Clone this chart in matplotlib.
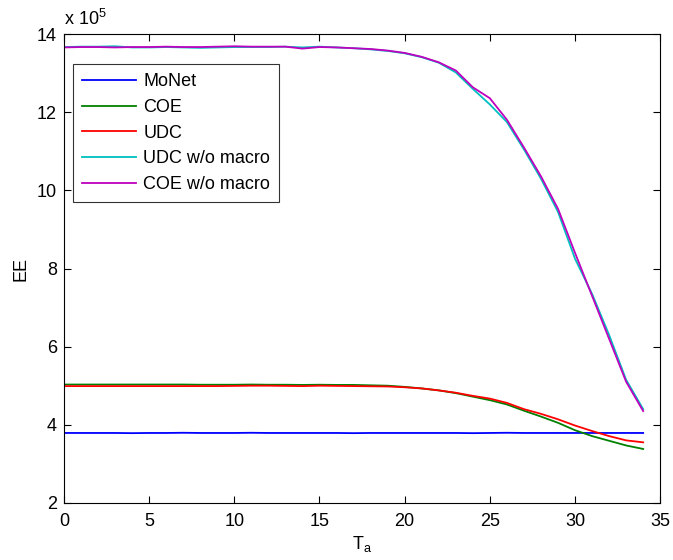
import matplotlib.pyplot as plt
import numpy as np

plt.rcParams['font.family'] = ['Liberation Sans', 'DejaVu Sans']
plt.rcParams['mathtext.fontset'] = 'custom'
plt.rcParams['mathtext.rm'] = 'Liberation Sans'

# T_a from 0 to 34, EE in units of 1e5
ta = np.arange(0, 35)

monet = [3.79, 3.79, 3.79, 3.79, 3.785, 3.79, 3.79, 3.795, 3.79, 3.79,
         3.79, 3.795, 3.79, 3.79, 3.79, 3.79, 3.79, 3.785, 3.79, 3.79,
         3.79, 3.79, 3.79, 3.79, 3.785, 3.79, 3.795, 3.79, 3.79, 3.79,
         3.79, 3.79, 3.79, 3.79, 3.79]
coe = [5.03, 5.03, 5.03, 5.03, 5.03, 5.03, 5.03, 5.03, 5.025, 5.025,
       5.025, 5.03, 5.025, 5.025, 5.02, 5.025, 5.02, 5.02, 5.01, 5.0,
       4.97, 4.93, 4.88, 4.81, 4.72, 4.63, 4.52, 4.36, 4.21, 4.05,
       3.86, 3.71, 3.59, 3.47, 3.38]
udc = [4.99, 4.99, 4.99, 4.99, 4.99, 4.99, 4.99, 4.99, 4.99, 4.99,
       4.995, 5.0, 5.0, 4.995, 4.99, 5.0, 4.995, 4.99, 4.985, 4.98,
       4.96, 4.93, 4.88, 4.82, 4.74, 4.67, 4.56, 4.40, 4.28, 4.14,
       3.98, 3.84, 3.71, 3.60, 3.55]
udc_nomacro = [13.67, 13.68, 13.68, 13.69, 13.66, 13.66, 13.67, 13.66, 13.65, 13.66,
               13.67, 13.67, 13.67, 13.68, 13.66, 13.68, 13.66, 13.64, 13.61, 13.57,
               13.51, 13.41, 13.27, 13.02, 12.60, 12.20, 11.75, 11.05, 10.30, 9.45,
               8.25, 7.35, 6.30, 5.15, 4.40]
coe_nomacro = [13.66, 13.67, 13.67, 13.66, 13.67, 13.67, 13.68, 13.67, 13.67, 13.68,
               13.69, 13.68, 13.68, 13.68, 13.63, 13.67, 13.66, 13.64, 13.62, 13.58,
               13.52, 13.42, 13.28, 13.07, 12.64, 12.36, 11.81, 11.10, 10.36, 9.53,
               8.40, 7.30, 6.20, 5.10, 4.35]

fig = plt.figure(figsize=(6.73, 5.6), dpi=100)
ax = fig.add_axes([0.095, 0.102, 0.886, 0.837])

lw = 1.3
ax.plot(ta, monet, color=(0, 0, 1), lw=lw, label='MoNet')
ax.plot(ta, coe, color=(0, 0.5, 0), lw=lw, label='COE')
ax.plot(ta, udc, color=(1, 0, 0), lw=lw, label='UDC')
ax.plot(ta, udc_nomacro, color=(0, 0.75, 0.75), lw=lw, label='UDC w/o macro')
ax.plot(ta, coe_nomacro, color=(0.75, 0, 0.75), lw=lw, label='COE w/o macro')

ax.set_xlim(0, 35)
ax.set_ylim(2, 14)
ax.set_xticks(np.arange(0, 36, 5))
ax.set_yticks(np.arange(2, 15, 2))
ax.tick_params(direction='in', top=True, right=True, labelsize=13, length=5)
ax.tick_params(axis='x', pad=7)
ax.tick_params(axis='y', pad=5)
for s in ax.spines.values():
    s.set_linewidth(0.8)

ax.set_xlabel('T$_{\\rm a}$', fontsize=13, labelpad=3)
ax.set_ylabel('EE', fontsize=13, labelpad=5)
ax.text(0.0, 1.012, 'x 10$^{5}$', transform=ax.transAxes, fontsize=13,
        ha='left', va='bottom')

leg = ax.legend(loc='upper left', bbox_to_anchor=(0.015, 0.936), fontsize=13,
                frameon=True, fancybox=False, edgecolor='black',
                handlelength=3.0, borderpad=0.5, labelspacing=0.48,
                handletextpad=0.4, borderaxespad=0)
leg.get_frame().set_linewidth(0.8)

fig.savefig('out.png', dpi=100)
